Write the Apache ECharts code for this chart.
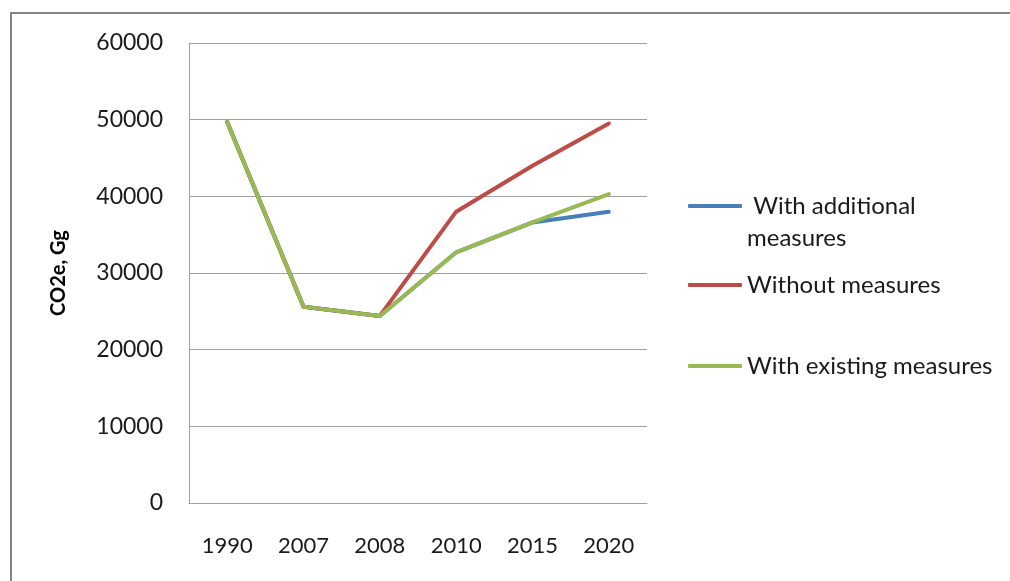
<!DOCTYPE html>
<html>
<head>
<meta charset="utf-8">
<script src="https://cdn.jsdelivr.net/npm/echarts@6/dist/echarts.min.js"></script>
<style>
  html, body { margin: 0; padding: 0; background: #fff; }
  #chart { width: 1010px; height: 581px; }
</style>
</head>
<body>
<div id="chart"></div>
<script>
// Greenhouse gas emission projections, CO2e in Gg
const years = ['1990', '2007', '2008', '2010', '2015', '2020'];
const withAdditional = [49700, 25600, 24400, 32700, 36600, 38000];
const withoutMeasures = [49700, 25600, 24400, 38000, 44000, 49500];
const withExisting = [49700, 25600, 24400, 32700, 36600, 40300];
const yTicks = { min: 0, max: 60000, interval: 10000 };

const FONT = 'Lato, "Open Sans", sans-serif';
const seriesDefs = [
  { name: 'With additional measures', data: withAdditional, color: '#4a7ebb' },
  { name: 'Without measures', data: withoutMeasures, color: '#be4b48' },
  { name: 'With existing measures', data: withExisting, color: '#98b954' }
];

// one legend block per series so each entry sits at its own height
const legendTops = [153, 264, 345];
const legends = seriesDefs.map((s, i) => ({
  orient: 'vertical',
  left: 683,
  top: legendTops[i],
  itemWidth: 54,
  itemHeight: 4,
  icon: 'roundRect',
  textStyle: { fontFamily: FONT, fontSize: 24, color: '#1a1a1a', lineHeight: 32 },
  formatter: function (name) {
    // blank first line keeps the key centred on the first wrapped line
    return name === 'With additional measures' ? '\n With additional\nmeasures' : name;
  },
  data: [s.name]
}));

const chart = echarts.init(document.getElementById('chart'), null, { renderer: 'canvas' });
chart.setOption({
  animation: false,
  backgroundColor: '#ffffff',
  graphic: [{
    type: 'rect',
    shape: { x: 11, y: 13, width: 1100, height: 700 },
    style: { fill: 'none', stroke: '#848484', lineWidth: 2 },
    silent: true
  }],
  grid: { left: 189, top: 43, right: 363, bottom: 78 },
  legend: legends,
  xAxis: {
    type: 'category',
    data: years,
    boundaryGap: true,
    axisLine: { lineStyle: { color: '#a0a0a0', width: 1 } },
    axisTick: { show: false },
    axisLabel: { fontFamily: FONT, fontSize: 22, color: '#1a1a1a', margin: 32 }
  },
  yAxis: {
    type: 'value',
    min: yTicks.min,
    max: yTicks.max,
    interval: yTicks.interval,
    name: 'CO2e, Gg',
    nameLocation: 'middle',
    nameGap: 120,
    nameTextStyle: { fontFamily: FONT, fontSize: 20, fontWeight: 'bold', color: '#000' },
    axisLine: { show: true, lineStyle: { color: '#a0a0a0', width: 1 } },
    axisTick: { show: false },
    splitLine: { lineStyle: { color: '#a0a0a0', width: 1 } },
    axisLabel: {
      fontFamily: FONT, fontSize: 23, color: '#1a1a1a', margin: 26,
      formatter: v => String(v)
    }
  },
  series: seriesDefs.map(s => ({
    name: s.name,
    type: 'line',
    data: s.data,
    symbol: 'none',
    color: s.color,
    lineStyle: { width: 4, color: s.color, cap: 'round', join: 'round' }
  }))
});
</script>
</body>
</html>
